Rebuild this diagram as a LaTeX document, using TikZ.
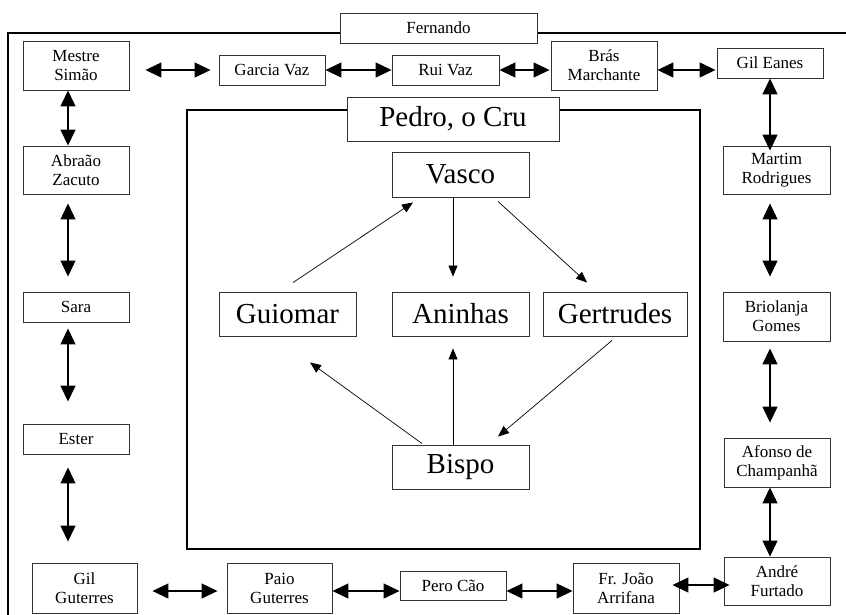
\documentclass[tikz,border=0pt]{standalone}
\usepackage{fontspec}
\setmainfont{Liberation Serif}
\usetikzlibrary{arrows.meta,calc}
\begin{document}
\begin{tikzpicture}[x=1pt,y=-1pt,
 sbox/.style={draw=black!80,line width=0.9pt,fill=white,inner sep=0pt,align=center,font=\fontsize{17}{19}\selectfont,minimum width=106pt},
 bbox/.style={draw=black!80,line width=0.9pt,fill=white,inner sep=0pt,font=\fontsize{29}{33}\selectfont,minimum width=137pt,minimum height=44pt},
 frame/.style={line width=2pt,black},
 big/.style={line width=1.3pt,{Triangle[length=16pt,width=15pt]}-{Triangle[length=16pt,width=15pt]}},
 thinarr/.style={line width=0.7pt,-{Triangle[length=11pt,width=9pt]}}]
\useasboundingbox (0,0) rectangle (846,614);
\fill[white] (0,0) rectangle (846,614);
% frames
\draw[frame] (848,33) -- (8,33) -- (8,616);
\draw[frame] (187,110) rectangle (700,549);
% helper coordinates
\coordinate (r70) at (0,70);
\coordinate (r591) at (0,591);
\coordinate (r585) at (0,585);
\coordinate (c68) at (68,0);
\coordinate (c770) at (770,0);
% outer boxes
\node[sbox,minimum width=197pt,minimum height=30pt] (fern) at (438.5,28) {Fernando};
\node[sbox,minimum height=49pt] (mestre) at (76,65.5) {Mestre\\Simão};
\node[sbox,minimum height=30pt] (garcia) at (272,70) {Garcia Vaz};
\node[sbox,minimum width=107pt,minimum height=30pt] (rui) at (445.5,70) {Rui Vaz};
\node[sbox,minimum height=49pt] (bras) at (604,65.5) {Brás\\Marchante};
\node[sbox,minimum height=30pt] (gileanes) at (770,63) {Gil Eanes};
\node[sbox,minimum height=48pt] (abraao) at (76,170) {Abraão\\Zacuto};
\node[sbox,minimum height=30pt] (sara) at (76,307) {Sara};
\node[sbox,minimum height=30pt] (ester) at (76,439) {Ester};
\node[sbox,minimum width=105pt,minimum height=50pt] (gilg) at (84.5,588) {Gil\\Guterres};
\node[sbox,minimum width=105pt,minimum height=50pt] (paio) at (279.5,588) {Paio\\Guterres};
\node[sbox,minimum height=29pt] (pero) at (453,585.5) {Pero Cão};
\node[sbox,minimum height=50pt] (frjoao) at (626,588) {Fr. João\\Arrifana};
\node[sbox,minimum height=48pt] (andre) at (777,581) {André\\Furtado};
\node[sbox,minimum width=107pt,minimum height=48pt] (martim) at (776.5,170) {Martim\\Rodrigues};
\node[sbox,minimum width=107pt,minimum height=49pt] (brio) at (776.5,316.5) {Briolanja\\Gomes};
\node[sbox,minimum height=49pt] (afonso) at (777,462.5) {Afonso de\\Champanhã};
% inner boxes
\node[bbox,minimum width=212pt] (pedro) at (453,119) {Pedro, o Cru};
\node[bbox,minimum height=45pt] (vasco) at (460.5,174.5) {Vasco};
\node[bbox] (guiomar) at (287.5,314) {Guiomar};
\node[bbox] (aninhas) at (460.5,314) {Aninhas};
\node[bbox,minimum width=144pt] (gertrudes) at (615,314) {Gertrudes};
\node[bbox] (bispo) at (460.5,467) {Bispo};
% top row
\draw[big,shorten <=16pt,shorten >=8pt] (mestre.east |- r70) -- (garcia.west);
\draw[big] (garcia.east) -- (rui.west);
\draw[big,shorten >=1pt] (rui.east) -- (bras.west |- r70);
\draw[big,shorten >=1pt] (bras.east |- r70) -- (gileanes.west |- r70);
% bottom row
\draw[big,shorten <=15pt,shorten >=9pt] (gilg.east |- r591) -- (paio.west |- r591);
\draw[big] (paio.east |- r591) -- (pero.west |- r591);
\draw[big] (pero.east |- r591) -- (frjoao.west |- r591);
\draw[big,shorten <=-7pt,shorten >=-6pt] (frjoao.east |- r585) -- (andre.west |- r585);
% left column
\draw[big] (c68 |- mestre.south) -- (c68 |- abraao.north);
\draw[big,shorten <=9pt,shorten >=15pt] (c68 |- abraao.south) -- (c68 |- sara.north);
\draw[big,shorten <=6pt,shorten >=22pt] (c68 |- sara.south) -- (c68 |- ester.north);
\draw[big,shorten <=13pt,shorten >=21pt] (c68 |- ester.south) -- (c68 |- gilg.north);
% right column
\draw[big,shorten >=-5pt] (c770 |- gileanes.south) -- (c770 |- martim.north);
\draw[big,shorten <=9pt,shorten >=15pt] (c770 |- martim.south) -- (c770 |- brio.north);
\draw[big,shorten <=7pt,shorten >=15pt] (c770 |- brio.south) -- (c770 |- afonso.north);
\draw[big] (c770 |- afonso.south) -- (c770 |- andre.north);
% inner arrows
\draw[thinarr] ($(guiomar.north)+(5.5,-9)$) -- ($(vasco.south)+(-47.5,5)$);
\draw[thinarr] ($(vasco.south)+(-7.5,0)$) -- ($(aninhas.north)+(-7.5,-15)$);
\draw[thinarr] ($(vasco.south)+(37.5,4)$) -- ($(gertrudes.north)+(-28,-9)$);
\draw[thinarr] ($(bispo.north)+(-38.5,-1)$) -- ($(guiomar.south)+(22.5,26)$);
\draw[thinarr] ($(bispo.north)+(-7.5,0)$) -- ($(aninhas.south)+(-7.5,12)$);
\draw[thinarr] ($(gertrudes.south)+(-3,4)$) -- ($(bispo.north)+(37.5,-8)$);
\end{tikzpicture}
\end{document}
